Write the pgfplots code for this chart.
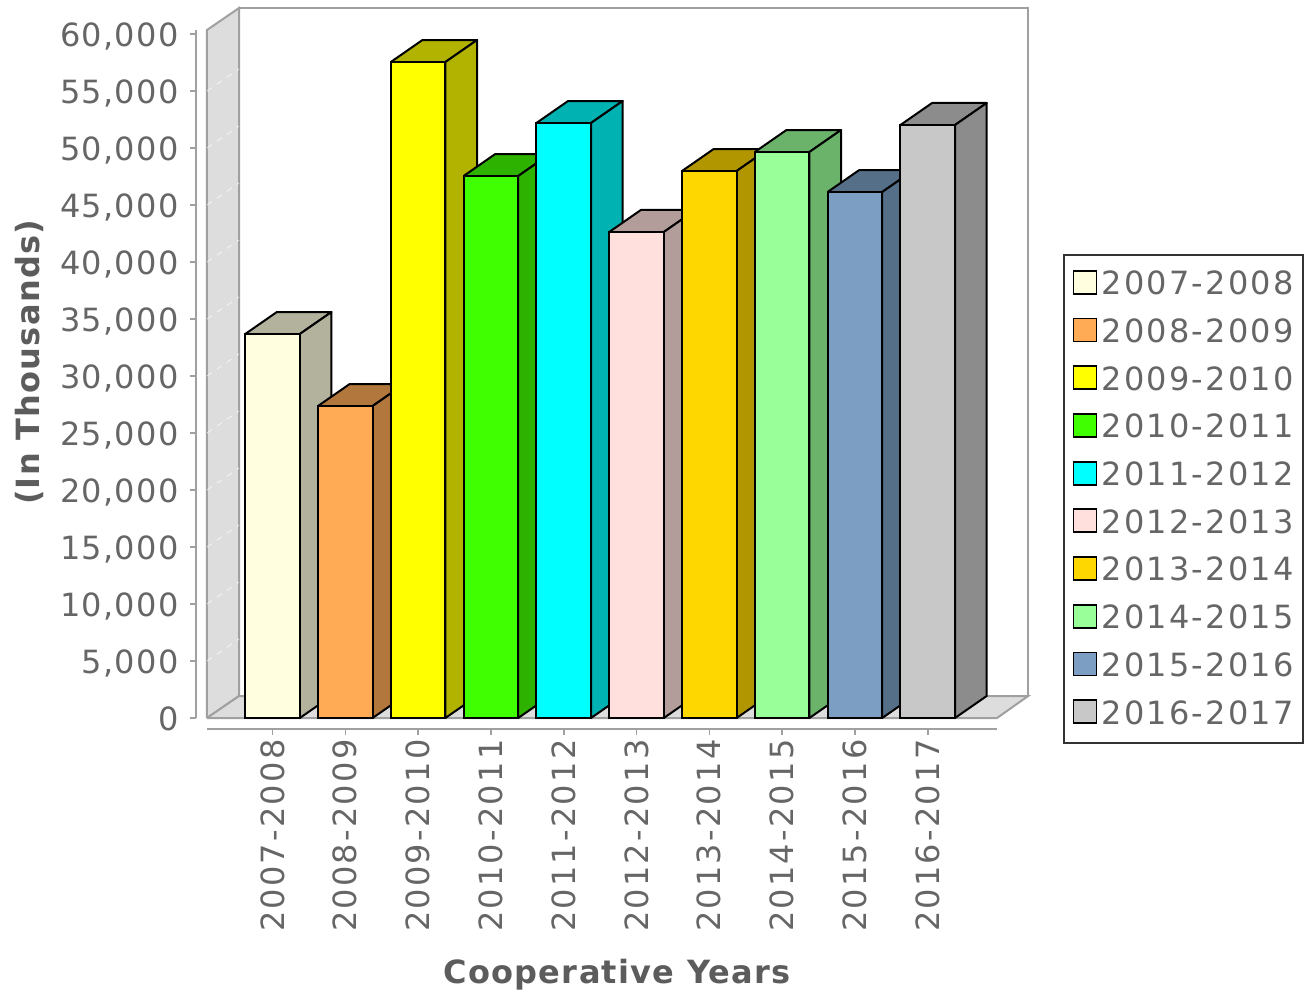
\documentclass[border=0pt]{standalone}
\usepackage{fontspec}
\setmainfont{DejaVu Sans}[LetterSpace=4]
\newfontfamily\lab{DejaVu Sans}[LetterSpace=7]
\usepackage{pgfplots}
\pgfplotsset{compat=1.18}

\definecolor{txt}{HTML}{666666}
\definecolor{axl}{HTML}{A0A0A0}
\definecolor{wall}{HTML}{DDDDDD}
\definecolor{c1}{HTML}{FFFFE0}
\definecolor{c2}{HTML}{FFAA55}
\definecolor{c3}{HTML}{FFFF00}
\definecolor{c4}{HTML}{40FF00}
\definecolor{c5}{HTML}{00FFFF}
\definecolor{c6}{HTML}{FFE0DD}
\definecolor{c7}{HTML}{FFD700}
\definecolor{c8}{HTML}{99FF99}
\definecolor{c9}{HTML}{7B9EC2}
\definecolor{c10}{HTML}{C8C8C8}

% one bar: category, value, colour, legend text
\newcommand{\cube}[4]{%
  \pgfmathsetmacro{\xa}{#1-0.375}
  \pgfmathsetmacro{\xb}{#1+0.375}
  \pgfmathsetmacro{\xc}{#1+0.375+0.435}
  \pgfmathsetmacro{\xd}{#1-0.375+0.435}
  \edef\yt{\the\numexpr#2+1930\relax}
  \edef\faces{%
    \noexpand\addplot[fill=#3!70!black,draw=black,line width=1pt,line join=round,forget plot]
      coordinates {(\xa,#2) (\xd,\yt) (\xc,\yt) (\xb,#2) (\xa,#2)};
    \noexpand\addplot[fill=#3!70!black,draw=black,line width=1pt,line join=round,forget plot]
      coordinates {(\xb,0) (\xc,1930) (\xc,\yt) (\xb,#2) (\xb,0)};
  }\faces
  \addplot[ybar,bar width=0.75,bar shift=0,fill=#3,draw=black,line width=1pt,sq] coordinates {(#1,#2)};
  \addlegendentry{#4}
}

\begin{document}
\begin{tikzpicture}
\useasboundingbox (-103.5pt,-139pt) rectangle (549pt,359pt);
\begin{axis}[
    scale only axis,
    width=395pt,
    height=344pt,
    xmin=-0.9, xmax=9.952,
    ymin=0, ymax=60351,
    clip=false,
    axis x line=bottom,
    axis y line=left,
    axis line shift=5.5pt,
    axis line style={-,axl,line width=1pt},
    tick style={axl,line width=0.8pt},
    tick align=outside,
    major tick length=3pt,
    xtick={0,...,9},
    xticklabels={2007-2008,2008-2009,2009-2010,2010-2011,2011-2012,2012-2013,2013-2014,2014-2015,2015-2016,2016-2017},
    x tick label style={rotate=90,anchor=east,inner sep=0pt,text=txt,font=\lab\fontsize{16}{16}\selectfont},
    ytick={0,5000,...,60000},
    scaled y ticks=false,
    y tick label style={inner sep=0pt,text height=12pt,text depth=0pt,text=txt,font=\fontsize{16}{16}\selectfont,
      /pgf/number format/.cd,assume math mode=true,1000 sep={,}},
    xticklabel shift=2pt,
    yticklabel shift=5.5pt,
    xlabel={Cooperative Years},
    ylabel={(In Thousands)},
    xlabel style={at={(axis description cs:0.519,-0.373)},anchor=center,inner sep=0pt,text=txt!90!black,font=\bfseries\fontsize{16}{16}\selectfont},
    ylabel style={at={(axis description cs:-0.225,0.517)},anchor=center,rotate=0,inner sep=0pt,text=txt!90!black,font=\bfseries\fontsize{16}{16}\selectfont},
    legend style={
      at={(axis description cs:1.0829,0.6744)},anchor=north west,
      draw=black!80,line width=1pt,
      inner xsep=2.5pt,inner ysep=2.75pt,
      font=\lab\fontsize{16}{16}\selectfont,text=txt,
      row sep=0pt,
      nodes={inner xsep=2pt,inner ysep=0pt,text height=17.1pt,text depth=6.75pt},
    },
    legend cell align=left,
    sq/.style={legend image code/.code={%
      \path[draw=none,fill=none] (0pt,0pt) -- (14.5pt,0pt);
      \draw[##1,line width=0.9pt] (2.5pt,-4.75pt) rectangle (14pt,6.75pt);}},
]
% walls and floor
\addplot[fill=white,draw=axl,line width=1pt,forget plot] coordinates {(-0.46,1930) (10.38,1930) (10.38,62280) (-0.46,62280) (-0.46,1930)};
\addplot[fill=wall,draw=axl,line width=1pt,forget plot] coordinates {(-0.9,0) (-0.46,1930) (-0.46,62280) (-0.9,60351) (-0.9,0)};
\addplot[fill=wall,draw=axl,line width=1pt,forget plot] coordinates {(-0.9,0) (-0.46,1930) (10.38,1930) (9.952,0) (-0.9,0)};
% faint grid on the left wall
\addplot[white,dashed,line width=0.5pt,opacity=0.6,forget plot,unbounded coords=jump] coordinates {
  (-0.9,5000) (-0.46,6930) (-0.9,nan)
  (-0.9,10000) (-0.46,11930) (-0.9,nan)
  (-0.9,15000) (-0.46,16930) (-0.9,nan)
  (-0.9,20000) (-0.46,21930) (-0.9,nan)
  (-0.9,25000) (-0.46,26930) (-0.9,nan)
  (-0.9,30000) (-0.46,31930) (-0.9,nan)
  (-0.9,35000) (-0.46,36930) (-0.9,nan)
  (-0.9,40000) (-0.46,41930) (-0.9,nan)
  (-0.9,45000) (-0.46,46930) (-0.9,nan)
  (-0.9,50000) (-0.46,51930) (-0.9,nan)
  (-0.9,55000) (-0.46,56930) (-0.9,nan)
};
\cube{0}{33684}{c1}{2007-2008}
\cube{1}{27368}{c2}{2008-2009}
\cube{2}{57544}{c3}{2009-2010}
\cube{3}{47544}{c4}{2010-2011}
\cube{4}{52193}{c5}{2011-2012}
\cube{5}{42632}{c6}{2012-2013}
\cube{6}{47982}{c7}{2013-2014}
\cube{7}{49649}{c8}{2014-2015}
\cube{8}{46140}{c9}{2015-2016}
\cube{9}{52018}{c10}{2016-2017}
\end{axis}
\end{tikzpicture}
\end{document}
